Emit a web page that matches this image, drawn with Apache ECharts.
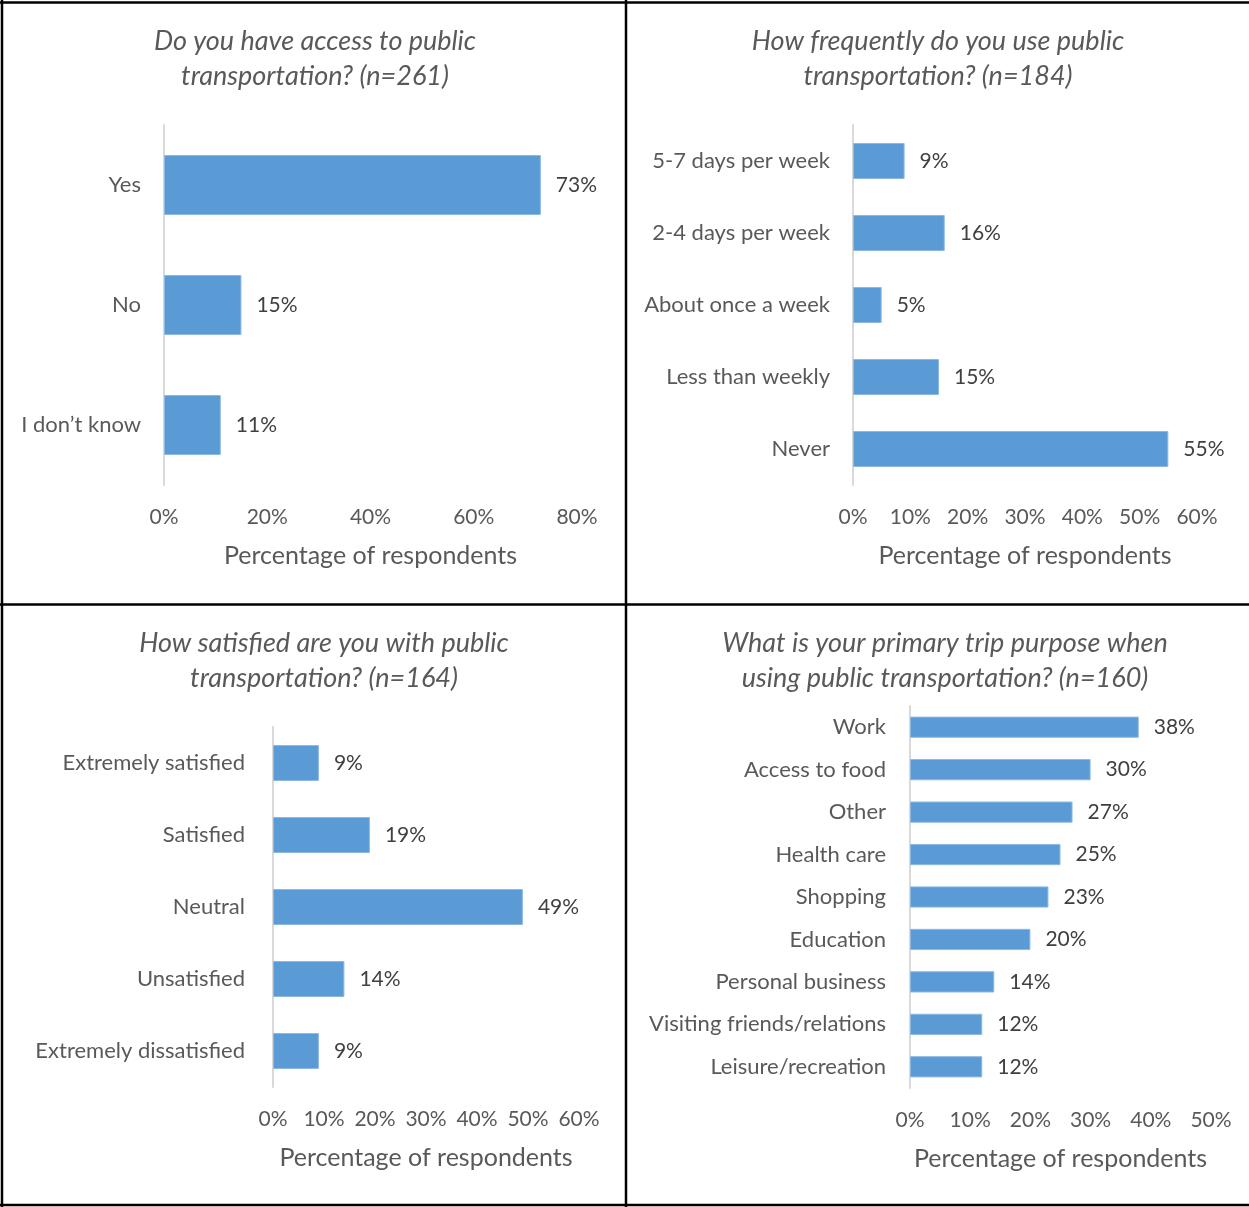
<!DOCTYPE html>
<html>
<head>
<meta charset="utf-8">
<script src="https://cdn.jsdelivr.net/npm/echarts@6/dist/echarts.min.js"></script>
<style>
  html, body { margin: 0; padding: 0; background: #ffffff; }
  #chart { width: 1249px; height: 1207px; }
</style>
</head>
<body>
<div id="chart"></div>
<script>
// Survey results: public transportation (percent of respondents)
const accessCategories = ['Yes', 'No', 'I don\u2019t know'];
const accessValues = [73, 15, 11];

const frequencyCategories = ['5-7 days per week', '2-4 days per week', 'About once a week', 'Less than weekly', 'Never'];
const frequencyValues = [9, 16, 5, 15, 55];

const satisfactionCategories = ['Extremely satisfied', 'Satisfied', 'Neutral', 'Unsatisfied', 'Extremely dissatisfied'];
const satisfactionValues = [9, 19, 49, 14, 9];

const purposeCategories = ['Work', 'Access to food', 'Other', 'Health care', 'Shopping', 'Education', 'Personal business', 'Visiting friends/relations', 'Leisure/recreation'];
const purposeValues = [38, 30, 27, 25, 23, 20, 14, 12, 12];

const titles = [
  'Do you have access to public\ntransportation? (n=261)',
  'How frequently do you use public\ntransportation? (n=184)',
  'How satisfied are you with public\ntransportation? (n=164)',
  'What is your primary trip purpose when\nusing public transportation? (n=160)'
];
const axisName = 'Percentage of respondents';

const FONT = 'Lato, "Noto Sans", sans-serif';
const GREY = '#595959';
const DARK = '#404040';
const BAR = '#5b9bd5';

// panel layout: grid box, x-axis range, title anchor
const panels = [
  { cats: accessCategories, vals: accessValues, grid: { left: 164, top: 125, width: 413, height: 360 }, max: 80, interval: 20, title: { x: 310, y: 19 }, labelMargin: 23 },
  { cats: frequencyCategories, vals: frequencyValues, grid: { left: 853, top: 125, width: 344, height: 360 }, max: 60, interval: 10, title: { x: 933, y: 19 }, labelMargin: 23 },
  { cats: satisfactionCategories, vals: satisfactionValues, grid: { left: 273, top: 727, width: 306, height: 360 }, max: 60, interval: 10, title: { x: 319, y: 621 }, labelMargin: 28 },
  { cats: purposeCategories, vals: purposeValues, grid: { left: 910, top: 706, width: 301, height: 382 }, max: 50, interval: 10, title: { x: 940, y: 621 }, labelMargin: 24 }
];

const option = {
  backgroundColor: '#ffffff',
  animation: false,
  title: panels.map((p, i) => ({
    text: titles[i],
    left: p.title.x,
    top: p.title.y,
    textAlign: 'center',
    textStyle: {
      fontFamily: FONT, fontStyle: 'italic', fontWeight: 'normal',
      fontSize: 27, lineHeight: 35, color: GREY
    }
  })),
  grid: panels.map(p => Object.assign({ containLabel: false }, p.grid)),
  xAxis: panels.map((p, i) => ({
    type: 'value', gridIndex: i, min: 0, max: p.max, interval: p.interval,
    axisLine: { show: false }, axisTick: { show: false }, splitLine: { show: false },
    axisLabel: { formatter: '{value}%', color: GREY, fontFamily: FONT, fontSize: 21, margin: 22 },
    name: axisName, nameLocation: 'middle', nameGap: 58,
    nameTextStyle: { color: GREY, fontFamily: FONT, fontSize: 25 }
  })),
  yAxis: panels.map((p, i) => ({
    type: 'category', gridIndex: i, data: p.cats, inverse: true,
    axisLine: { show: true, lineStyle: { color: '#d9d9d9', width: 2 } },
    axisTick: { show: false }, splitLine: { show: false },
    axisLabel: { color: GREY, fontFamily: FONT, fontSize: 22, margin: p.labelMargin }
  })),
  series: panels.map((p, i) => ({
    type: 'bar', xAxisIndex: i, yAxisIndex: i, data: p.vals,
    barCategoryGap: '50%',
    itemStyle: { color: BAR, borderColor: '#8db9e3', borderWidth: 1 },
    label: {
      show: true, position: 'right', distance: 15, formatter: '{c}%',
      color: DARK, fontFamily: FONT, fontSize: 21, padding: [3, 0, 0, 0]
    }
  })),
  // frame lines around and between the four panels
  graphic: [
    { type: 'line', shape: { x1: 2, y1: 0, x2: 2, y2: 1207 }, style: { stroke: '#000', lineWidth: 2.5 } },
    { type: 'line', shape: { x1: 0, y1: 2.5, x2: 1249, y2: 2.5 }, style: { stroke: '#000', lineWidth: 2.5 } },
    { type: 'line', shape: { x1: 0, y1: 1205, x2: 1249, y2: 1205 }, style: { stroke: '#000', lineWidth: 2.5 } },
    { type: 'line', shape: { x1: 626, y1: 0, x2: 626, y2: 1207 }, style: { stroke: '#000', lineWidth: 2.5 } },
    { type: 'line', shape: { x1: 0, y1: 604.5, x2: 1249, y2: 604.5 }, style: { stroke: '#000', lineWidth: 2.5 } }
  ]
};

const chart = echarts.init(document.getElementById('chart'), null, { renderer: 'canvas' });
chart.setOption(option);
</script>
</body>
</html>
